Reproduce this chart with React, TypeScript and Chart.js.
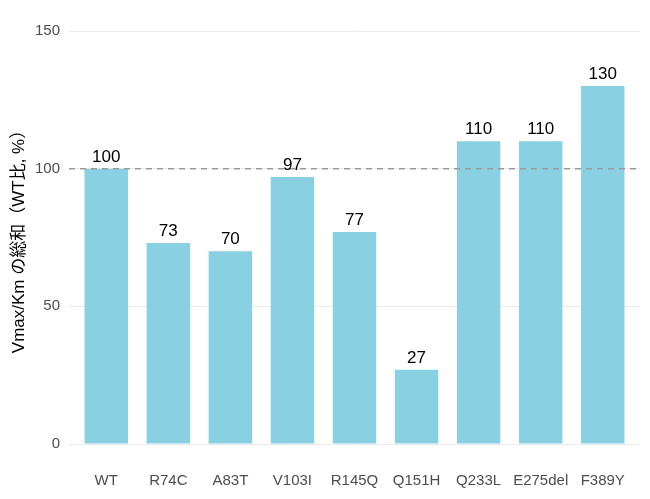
import { useEffect, useRef } from 'react';
import Chart from 'chart.js/auto';

const variants = ['WT', 'R74C', 'A83T', 'V103I', 'R145Q', 'Q151H', 'Q233L', 'E275del', 'F389Y'];
const relativeActivity = [100, 73, 70, 97, 77, 27, 110, 110, 130];
const yTicks = [0, 50, 100, 150];
const referenceLine = 100;

const FONT = "'Liberation Sans', 'Noto Sans CJK JP', Arial, sans-serif";

const overlayPlugin = {
  id: 'overlay',
  afterDatasetsDraw(chart) {
    const { ctx, chartArea, scales } = chart;
    const y = scales.y.getPixelForValue(referenceLine);
    ctx.save();
    ctx.strokeStyle = '#999999';
    ctx.lineWidth = 1.5;
    ctx.setLineDash([6, 5]);
    ctx.beginPath();
    ctx.moveTo(chartArea.left, y);
    ctx.lineTo(chartArea.right, y);
    ctx.stroke();
    ctx.setLineDash([]);

    const meta = chart.getDatasetMeta(0);
    ctx.fillStyle = '#000000';
    ctx.font = `17px ${FONT}`;
    ctx.textAlign = 'center';
    ctx.textBaseline = 'bottom';
    meta.data.forEach((bar, i) => {
      ctx.fillText(String(relativeActivity[i]), bar.x, bar.y - 3);
    });
    ctx.restore();
  },
};

export default function App() {
  const chartRef = useRef<Chart | null>(null);
  const canvasRef = useRef<HTMLCanvasElement | null>(null);

  useEffect(() => {
    document.body.style.margin = '0';
    if (chartRef.current) {
      chartRef.current.destroy();
    }
    const ctx = canvasRef.current?.getContext('2d');
    if (ctx) {
      chartRef.current = new Chart(ctx, {
        type: 'bar',
        data: {
          datasets: [{
            data: relativeActivity.map((v, i) => ({ x: i, y: v })),
            backgroundColor: '#89d1e2',
            borderWidth: 0,
            barPercentage: 0.7,
            categoryPercentage: 1,
          }],
        },
        options: {
          responsive: false,
          animation: false,
          layout: { padding: { top: 31, right: 10, left: 0, bottom: 0 } },
          plugins: {
            legend: { display: false },
            tooltip: { enabled: false },
          },
          scales: {
            x: {
              type: 'linear',
              offset: false,
              min: -0.6,
              max: variants.length - 1 + 0.6,
              grid: { display: false },
              border: { display: false },
              afterBuildTicks: (scale) => {
                scale.ticks = variants.map((_, i) => ({ value: i }));
              },
              afterFit: (scale) => {
                scale.height = 55;
              },
              ticks: {
                autoSkip: false,
                maxRotation: 0,
                padding: 20,
                color: '#4d4d4d',
                font: { family: FONT, size: 15 },
                callback: (value) => variants[value as number] ?? '',
              },
            },
            y: {
              min: 0,
              max: 150,
              afterBuildTicks: (scale) => {
                scale.ticks = yTicks.map((v) => ({ value: v }));
              },
              afterFit: (scale) => {
                scale.width = 69;
              },
              grid: { color: '#ebebeb', lineWidth: 1, drawTicks: false },
              border: { display: false },
              ticks: {
                padding: 9,
                color: '#4d4d4d',
                font: { family: FONT, size: 15 },
              },
              title: {
                display: true,
                text: 'Vmax/Km の総和（WT比, %）',
                color: '#000000',
                font: { family: FONT, size: 17 },
                padding: { top: 9, bottom: 0 },
              },
            },
          },
        },
        plugins: [overlayPlugin],
      });
    }
    return () => {
      if (chartRef.current) {
        chartRef.current.destroy();
        chartRef.current = null;
      }
    };
  }, []);

  return (
    <div style={{ width: 650, height: 499 }}>
      <canvas ref={canvasRef} width="650" height="499"></canvas>
    </div>
  );
}
